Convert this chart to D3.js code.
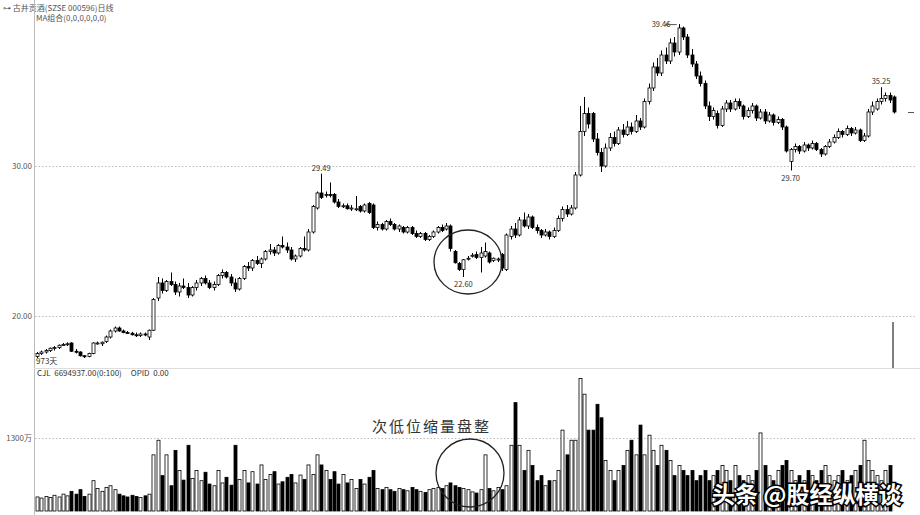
<!DOCTYPE html>
<html><head><meta charset="utf-8">
<script src="https://cdn.jsdelivr.net/npm/d3@7"></script>
<style>
body{margin:0;background:#fff;}
svg{display:block;font-family:"Noto Sans CJK SC","DejaVu Sans",sans-serif;}
</style>
</head><body>
<svg id="chart" width="920" height="515"></svg>
<script>
// [open, high, low, close]
const ohlc = [
[17.3,17.6,17.2,17.5],[17.5,17.7,17.4,17.6],[17.6,17.8,17.5,17.7],[17.7,17.9,17.6,17.85],[17.85,18.0,17.7,17.9],
[17.9,18.1,17.8,18.05],[18.05,18.2,18.0,18.1],[18.1,18.25,18.0,18.15],[18.2,18.25,17.6,17.65],[17.65,17.8,17.5,17.6],
[17.6,17.65,17.3,17.35],[17.35,17.4,17.2,17.3],[17.3,17.55,17.25,17.5],[17.5,18.25,17.45,18.2],[18.2,18.3,18.1,18.2],
[18.15,18.3,18.0,18.25],[18.3,18.7,18.2,18.6],[18.6,19.1,18.5,19.0],[19.0,19.3,18.9,19.2],[19.2,19.3,18.95,19.0],
[19.0,19.1,18.85,18.9],[18.9,19.0,18.8,18.85],[18.85,18.95,18.7,18.75],[18.75,18.9,18.6,18.7],[18.7,18.9,18.6,18.8],
[18.8,18.9,18.65,18.75],[18.6,19.1,18.4,19.05],[19.05,21.2,19.0,21.1],[21.2,22.6,21.0,22.2],[22.2,22.5,21.5,21.7],
[21.7,22.4,21.6,22.3],[22.3,22.9,22.0,22.1],[22.1,22.3,21.4,21.6],[21.6,22.2,21.3,22.0],[22.0,22.5,21.8,21.9],
[21.9,22.2,21.2,21.4],[21.4,22.0,21.3,21.9],[21.9,22.4,21.7,22.2],[22.2,22.6,22.0,22.5],[22.5,22.7,22.1,22.2],
[22.2,22.4,21.8,21.9],[21.9,22.3,21.7,22.1],[22.1,22.8,22.0,22.7],[22.7,23.1,22.5,22.9],[22.9,23.0,22.5,22.6],
[22.6,22.8,22.0,22.2],[22.2,22.5,21.6,21.8],[21.8,22.6,21.7,22.5],[22.5,23.4,22.4,23.3],[23.3,23.6,23.0,23.2],
[23.2,23.8,23.0,23.7],[23.7,24.0,23.4,23.5],[23.5,23.9,23.2,23.8],[23.8,24.4,23.7,24.3],[24.3,24.8,24.1,24.4],
[24.4,24.6,24.0,24.2],[24.2,24.8,24.1,24.7],[24.7,25.3,24.5,24.6],[24.6,24.9,24.2,24.4],[24.4,24.6,23.7,23.8],
[23.8,24.1,23.6,24.0],[24.0,24.6,23.9,24.5],[24.5,25.3,24.3,24.4],[24.4,25.8,24.3,25.6],[25.6,27.4,25.5,27.3],
[27.2,28.3,27.1,28.2],[28.2,29.49,27.8,27.9],[28.05,28.3,27.9,28.1],[28.1,28.9,27.9,28.05],[28.1,28.2,27.5,27.6],
[27.6,27.8,27.2,27.3],[27.3,27.5,27.2,27.35],[27.35,27.5,27.1,27.15],[27.15,27.4,27.0,27.2],[27.1,28.0,27.0,27.15],
[27.3,27.4,26.9,27.0],[27.0,27.5,26.9,27.4],[27.5,27.6,26.8,26.9],[27.4,27.5,25.8,25.9],[25.9,26.3,25.7,26.1],
[26.1,26.2,25.7,25.8],[25.8,26.4,25.7,26.3],[26.3,26.5,26.0,26.1],[26.1,26.2,25.7,25.8],[25.8,26.1,25.6,26.0],
[25.9,26.0,25.5,25.6],[25.6,26.0,25.5,25.9],[25.9,26.0,25.4,25.5],[25.5,25.7,25.2,25.3],[25.3,25.6,25.2,25.5],
[25.5,25.6,25.0,25.1],[25.1,25.4,25.0,25.3],[25.3,25.7,25.2,25.6],[25.6,26.0,25.5,25.9],[25.9,26.1,25.6,25.7],
[25.8,26.2,25.7,26.0],[26.0,26.1,24.3,24.5],[24.3,24.4,23.5,23.55],[23.5,23.6,23.0,23.1],[23.1,23.8,22.6,23.75],
[23.8,24.0,23.7,23.85],[24.0,24.2,23.9,24.05],[24.1,24.3,23.8,23.9],[23.9,24.6,22.9,24.2],[24.0,24.9,23.9,24.3],
[24.2,24.3,23.5,23.6],[23.7,23.9,23.6,23.85],[23.75,23.9,23.6,23.8],[24.1,24.2,23.0,23.2],[23.1,25.5,23.0,25.4],
[25.3,26.0,25.1,25.8],[25.8,26.2,25.2,25.4],[25.4,26.6,25.3,26.4],[26.4,26.9,25.9,26.0],[26.0,26.8,25.8,26.6],
[26.6,26.7,25.8,25.9],[25.9,26.1,25.5,25.7],[25.7,25.8,25.2,25.4],[25.4,25.8,25.3,25.6],[25.6,25.7,25.1,25.3],
[25.3,25.9,25.2,25.7],[25.7,26.7,25.6,26.5],[26.5,27.3,26.3,27.1],[27.1,27.4,26.6,26.8],[26.8,27.4,26.7,27.2],
[27.2,29.6,27.1,29.4],[29.4,34.0,29.3,32.3],[32.3,34.6,32.0,33.5],[33.5,33.9,32.5,32.8],[33.5,33.6,31.6,31.8],
[31.8,32.2,30.7,30.9],[30.9,31.2,29.6,30.0],[30.0,31.5,29.9,31.2],[31.2,32.2,31.0,31.9],[31.9,32.3,31.3,31.5],
[31.5,32.6,31.4,32.4],[32.4,32.8,31.9,32.1],[32.1,33.0,32.0,32.6],[32.6,32.9,32.1,32.3],[32.3,33.4,32.2,33.0],
[33.0,33.2,32.4,32.6],[32.6,34.5,32.5,34.3],[34.3,35.5,34.1,35.2],[35.2,36.9,35.0,36.6],[36.6,37.2,36.0,36.2],
[36.2,37.7,36.0,37.4],[37.4,37.9,36.8,37.0],[37.0,38.5,36.8,38.2],[38.2,38.6,37.3,37.6],[37.6,39.46,37.4,39.2],
[39.2,39.3,38.4,38.6],[38.6,38.8,37.2,37.4],[37.4,37.8,36.6,36.8],[36.8,37.0,35.8,36.0],[36.0,36.3,35.3,35.5],
[35.5,35.7,33.8,34.0],[34.0,34.3,33.0,33.3],[33.3,33.9,33.1,33.7],[33.5,33.7,32.5,32.7],[32.7,34.0,32.6,33.8],
[33.8,34.4,33.6,34.2],[34.2,34.4,33.6,33.8],[33.8,34.5,33.7,34.3],[34.3,34.5,33.8,34.0],[34.0,34.1,33.1,33.3],
[33.3,33.9,33.2,33.7],[33.7,34.2,33.5,34.0],[34.0,34.1,33.0,33.2],[33.2,33.8,33.1,33.6],[33.6,33.8,32.8,33.0],
[33.0,33.6,32.9,33.4],[33.4,33.5,32.7,32.9],[32.9,33.3,32.8,33.1],[33.1,33.2,32.4,32.6],[32.6,32.7,30.9,31.0],
[30.3,31.2,29.7,31.1],[31.1,31.5,30.9,31.3],[31.3,31.4,30.8,31.0],[31.0,31.6,30.9,31.4],[31.4,31.5,31.0,31.2],
[31.2,31.7,31.1,31.5],[31.5,31.6,31.0,31.1],[31.1,31.2,30.6,30.8],[30.8,31.4,30.7,31.3],[31.3,31.8,31.2,31.6],
[31.6,32.1,31.5,31.9],[31.9,32.5,31.8,32.3],[32.3,32.4,31.9,32.1],[32.1,32.7,32.0,32.5],[32.5,32.6,32.0,32.2],
[32.2,32.6,32.1,32.4],[32.4,32.5,31.6,31.7],[31.7,32.2,31.6,32.0],[32.0,33.8,31.9,33.6],[33.6,34.3,33.4,34.0],
[33.8,34.5,33.7,34.3],[34.3,35.25,34.1,34.5],[34.5,34.9,34.3,34.7],[34.7,34.9,34.2,34.4],[34.6,34.7,33.5,33.6]
];
// volume in 万
const volumes = [
250,230,260,240,280,250,300,270,350,300,380,260,300,
540,400,350,420,450,380,300,270,250,280,260,240,270,300,
1000,
1260,630,1000,450,1080,720,550,1170,580,720,540,690,480,450,720,500,600,460,1170,560,720,500,700,480,820,560,650,700,480,520,600,
650,500,
640,560,820,650,1000,820,720,560,700,480,650,500,560,400,560,480,600,
720,
400,380,420,380,350,400,380,360,420,380,350,330,380,400,420,400,450,
500,450,420,400,380,340,320,380,1000,400,360,420,380,
450,1170,1930,1170,720,1080,810,540,630,450,540,540,720,1440,1000,1260,1260,2360,2080,1440,1440,1900,1660,900,720,540,720,810,1080,1260,1000,1530,1000,1350,1080,810,1170,1080,900,630,810,720,630,720,540,630,720,540,630,720,810,720,540,810,630,540,630,540,720,1390,810,630,540,720,810,900,720,540,630,540,720,630,540,720,810,630,540,630,720,540,630,720,810,1260,900,720,630,540,720,810
];
const priceTicks = [20, 30];
const volumeTicks = [1300];
const labelIndex = [66, 99, 149, 175, 196];
const labelValue = [29.49, 22.60, 39.46, 29.70, 35.25];

const svg = d3.select("#chart");
const N = ohlc.length;
const x = d3.scaleLinear().domain([0, N - 1]).range([37, 894]);
const y = d3.scaleLinear().domain([20, 30]).range([316, 166]);
const yv = d3.scaleLinear().domain([0, 1300]).range([511, 438]);
const bw = 3;

// header
svg.append("text").attr("x", 3).attr("y", 11).attr("font-size", 8).attr("fill", "#555")
  .text("⊶ 古井贡酒(SZSE 000596)日线");
svg.append("text").attr("x", 36).attr("y", 21).attr("font-size", 8).attr("fill", "#555")
  .text("MA组合(0,0,0,0,0,0)");

// left axis line
svg.append("line").attr("x1", 34.5).attr("x2", 34.5).attr("y1", 0).attr("y2", 515).attr("stroke", "#bbb");
// panel separator
svg.append("line").attr("x1", 34).attr("x2", 920).attr("y1", 368.5).attr("y2", 368.5).attr("stroke", "#ddd");

// price grid
const pg = svg.append("g");
pg.selectAll("line").data(priceTicks).join("line")
  .attr("x1", 35).attr("x2", 915).attr("y1", d => y(d) + 0.5).attr("y2", d => y(d) + 0.5)
  .attr("stroke", "#bbb").attr("stroke-dasharray", "1.5,2");
pg.selectAll("text").data(priceTicks).join("text")
  .attr("x", 32).attr("y", d => y(d) + 3).attr("text-anchor", "end")
  .attr("font-size", 8).attr("fill", "#555").text(d => d.toFixed(2));

// volume grid
const vg = svg.append("g");
vg.selectAll("line").data(volumeTicks).join("line")
  .attr("x1", 35).attr("x2", 915).attr("y1", d => yv(d) + 0.5).attr("y2", d => yv(d) + 0.5)
  .attr("stroke", "#bbb").attr("stroke-dasharray", "1.5,2");
vg.selectAll("text").data(volumeTicks).join("text")
  .attr("x", 32).attr("y", d => yv(d) + 3).attr("text-anchor", "end")
  .attr("font-size", 8).attr("fill", "#555").text(d => d + "万");

svg.append("text").attr("x", 36).attr("y", 364).attr("font-size", 8).attr("fill", "#333").text("973天");
svg.append("text").attr("x", 37).attr("y", 376).attr("font-size", 8).attr("fill", "#333").attr("xml:space", "preserve")
  .text("CJL  6694937.00(0:100)     OPID  0.00");

// candles
const cg = svg.append("g");
const cand = cg.selectAll("g").data(ohlc).join("g");
cand.append("line")
  .attr("x1", (d, i) => Math.round(x(i)) + 0.5).attr("x2", (d, i) => Math.round(x(i)) + 0.5)
  .attr("y1", d => y(d[1])).attr("y2", d => y(d[2])).attr("stroke", "#000");
cand.append("rect")
  .attr("x", (d, i) => Math.round(x(i)) - 1)
  .attr("y", d => y(Math.max(d[0], d[3])))
  .attr("width", bw)
  .attr("height", d => Math.max(1, Math.abs(y(d[0]) - y(d[3]))))
  .attr("fill", d => d[3] >= d[0] ? "#fff" : "#000")
  .attr("stroke", "#000").attr("stroke-width", 0.8);

// volume bars
const vb = svg.append("g");
vb.selectAll("rect").data(volumes.slice(0, N)).join("rect")
  .attr("x", (d, i) => Math.round(x(i)) - 1)
  .attr("y", d => yv(d))
  .attr("width", bw)
  .attr("height", d => yv(0) - yv(d))
  .attr("fill", (d, i) => ohlc[i][3] >= ohlc[i][0] ? "#fff" : "#000")
  .attr("stroke", "#000").attr("stroke-width", 0.8);

// high / low labels
const lg = svg.append("g");
labelIndex.forEach((idx, k) => {
  const v = labelValue[k];
  const d = ohlc[idx];
  const isLow = Math.abs(d[2] - v) < 0.01;
  if (idx === 149) {
    lg.append("text").attr("x", x(idx) - 27).attr("y", y(v) + 3).attr("font-size", 7.5).attr("fill", "#333").text(v.toFixed(2));
    lg.append("line").attr("x1", x(idx) - 13).attr("x2", x(idx) - 2).attr("y1", y(v) + 0.5).attr("y2", y(v) + 0.5).attr("stroke", "#555");
    lg.append("path").attr("d", `M${x(idx) - 13},${y(v) + 0.5}l3,-2M${x(idx) - 13},${y(v) + 0.5}l3,2`).attr("stroke", "#555").attr("fill", "none");
  } else {
    lg.append("text").attr("x", x(idx)).attr("y", isLow ? y(v) + 10 : y(v) - 3)
      .attr("text-anchor", "middle").attr("font-size", 7.5).attr("fill", "#333").text(v.toFixed(2));
  }
});

// right-edge last price marker
svg.append("line").attr("x1", 908).attr("x2", 914).attr("y1", y(ohlc[N - 1][3]) + 0.5).attr("y2", y(ohlc[N - 1][3]) + 0.5).attr("stroke", "#555");
// cursor line
svg.append("line").attr("x1", 893).attr("x2", 893).attr("y1", 322).attr("y2", 368).attr("stroke", "#555").attr("stroke-width", 1.5);

// annotations
svg.append("ellipse").attr("cx", 468).attr("cy", 262).attr("rx", 34).attr("ry", 32).attr("fill", "none").attr("stroke", "#222").attr("stroke-width", 1.3);
svg.append("ellipse").attr("cx", 470).attr("cy", 473).attr("rx", 34).attr("ry", 34).attr("fill", "none").attr("stroke", "#222").attr("stroke-width", 1.3);
svg.append("text").attr("x", 372).attr("y", 432).attr("font-size", 15).attr("letter-spacing", 2).attr("fill", "#333")
  .text("次低位缩量盘整");

// watermark
svg.append("text").attr("x", 712).attr("y", 503).attr("font-size", 23).attr("font-weight", "bold")
  .attr("fill", "#fff").attr("stroke", "#000").attr("stroke-width", 3).attr("paint-order", "stroke")
  .text("头条 @股经纵横谈");
</script>
</body></html>
